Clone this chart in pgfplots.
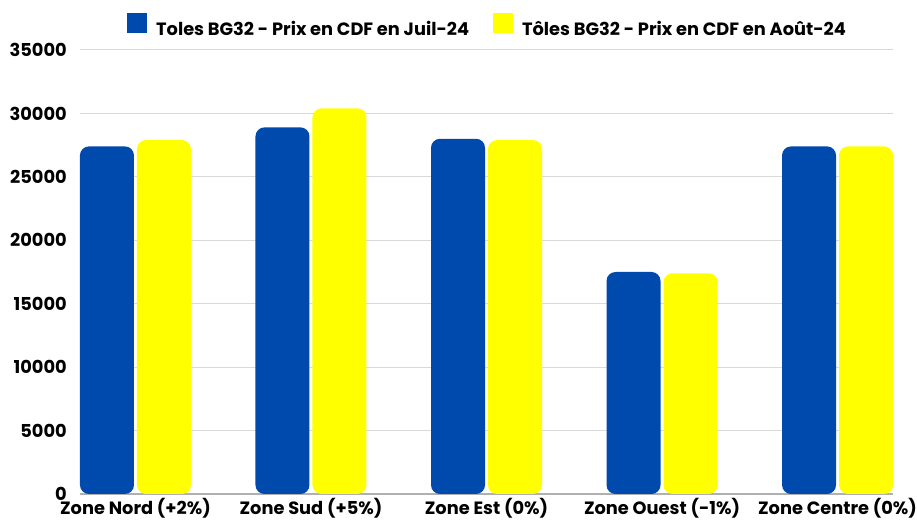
\documentclass[border=0pt]{standalone}
\usepackage{fontspec}
\setmainfont{Poppins}
\usepackage{pgfplots}
\pgfplotsset{compat=1.18}
\definecolor{cblue}{HTML}{004AAD}
\definecolor{cyellow}{HTML}{FFFF00}
\definecolor{cgrid}{HTML}{D9D9D9}
\definecolor{caxis}{HTML}{B0B0B0}
\begin{document}
\begin{tikzpicture}
\useasboundingbox (-80pt,-27pt) rectangle (837pt,494pt);
\begin{axis}[
  scale only axis,
  width=813pt, height=444pt,
  font=\bfseries\fontsize{17.8}{20}\selectfont,
  ybar, bar width=54pt,
  xmin=-0.316, xmax=4.316,
  ymin=0, ymax=35000,
  scaled y ticks=false,
  y coord trafo/.code={\begingroup\pgfkeys{/pgf/fpu=true,/pgf/fpu/output format=sci}\pgfmathparse{#1+2000}\global\let\mytrafo\pgfmathresult\endgroup\let\pgfmathresult\mytrafo},
  y coord inv trafo/.code={\begingroup\pgfkeys{/pgf/fpu=true,/pgf/fpu/output format=sci}\pgfmathparse{#1-2000}\global\let\mytrafo\pgfmathresult\endgroup\let\pgfmathresult\mytrafo},
  ytick={0,5000,10000,15000,20000,25000,30000,35000},
  yticklabels={0,5000,10000,15000,20000,25000,30000,35000},
  xtick={0,1,2,3,4},
  xticklabels={Zone Nord (+2\%),Zone Sud (+5\%),Zone Est (0\%),Zone Ouest (-1\%),Zone Centre (0\%)},
  major tick length=0pt,
  ymajorgrids, grid style={color=cgrid, line width=1pt},
  axis x line*=bottom, axis y line*=left,
  x axis line style={color=caxis, line width=1.5pt, -},
  y axis line style={draw=none},
  yticklabel style={inner sep=1pt, xshift=-12pt},
  xticklabel style={inner sep=1pt, yshift=-3pt},
  legend style={at={(0.5,1)}, anchor=south, yshift=12pt, draw=none, fill=none,
    legend columns=2, /tikz/every even column/.append style={column sep=24pt},
    nodes={inner sep=0pt, text depth=0pt},
    font=\bfseries\fontsize{17.8}{20}\selectfont},
  legend image code/.code={\fill[#1, sharp corners] (0pt,-4pt) rectangle (20pt,16pt);},
  legend cell align=left,
]
\addplot[fill=cblue, draw=none, rounded corners=9pt, bar shift=-28.5pt] coordinates {(0,27400) (1,28900) (2,28000) (3,17500) (4,27400)};
\addplot[fill=cyellow, draw=none, rounded corners=9pt, bar shift=28.5pt] coordinates {(0,27900) (1,30400) (2,27900) (3,17400) (4,27400)};
\legend{\hspace{9pt}Toles BG32 - Prix en CDF en Juil-24, \hspace{9pt}Tôles BG32 - Prix en CDF en Août-24}
\end{axis}
\end{tikzpicture}
\end{document}
